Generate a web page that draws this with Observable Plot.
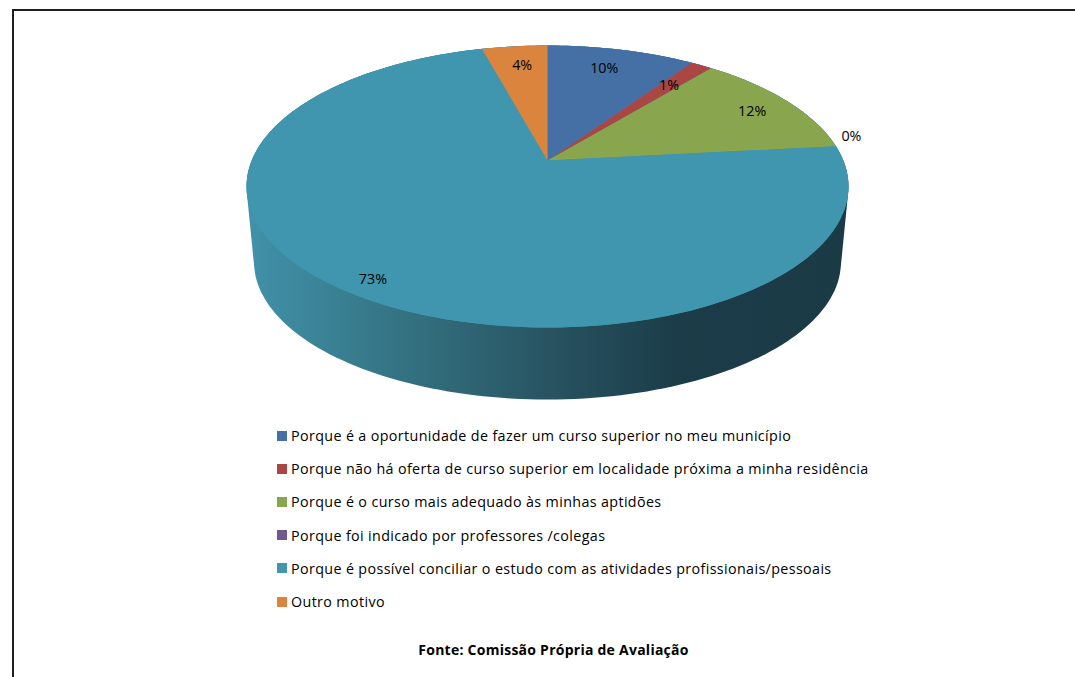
<!DOCTYPE html>
<html lang="pt">
<head>
<meta charset="utf-8">
<script src="https://cdn.jsdelivr.net/npm/d3@7"></script>
<script src="https://cdn.jsdelivr.net/npm/@observablehq/plot@0.6"></script>
<style>
  html, body { margin: 0; padding: 0; background: #fff; width: 1075px; height: 677px; overflow: hidden; font-family: "Open Sans", sans-serif; color: #000; }
  #frame { position: absolute; left: 12px; top: 9px; width: 1075px; height: 700px; border-left: 2px solid #231f20; border-top: 2px solid #231f20; }
  #chart { position: absolute; left: 0; top: 0; }
  #legend { position: absolute; left: 277px; top: 419px; margin: 0; padding: 0; list-style: none; font-size: 14.3px; letter-spacing: 0.37px; }
  #legend li { height: 33.2px; line-height: 33.2px; white-space: nowrap; display: flex; align-items: center; }
  #legend i { display: inline-block; width: 10px; height: 10px; margin-right: 4px; flex: none; }
  #source { position: absolute; left: 0; width: 1107px; top: 641px; text-align: center; font-weight: 700; font-size: 14px; letter-spacing: 0.25px; line-height: 18px; }
</style>
</head>
<body>
<div id="frame"></div>
<div id="chart"></div>
<ul id="legend"></ul>
<div id="source"></div>
<script>
const categories = [
  "Porque é a oportunidade de fazer um curso superior no meu município",
  "Porque não há oferta de curso superior em localidade próxima a minha residência",
  "Porque é o curso mais adequado às minhas aptidões",
  "Porque foi indicado por professores /colegas",
  "Porque é possível conciliar o estudo com as atividades profissionais/pessoais",
  "Outro motivo"
];
const values = [9.5, 1.4, 12.4, 0, 72.5, 4.2];
const colors = ["#4470a5", "#aa4643", "#89a54e", "#71588f", "#4096ae", "#db843d"];
const sourceText = "Fonte: Comissão Própria de Avaliação";

// label placement relative to each slice (fraction of radius, turn in degrees)
const labelRadius = [0.80, 0.765, 0.836, 1.078, 0.909, 0.806];
const labelTurn = [-1.2, 0, 0.9, -3.7, -0.38, 0.56];

// Perspective view of the disc
const top3d = {cx: 547, cy: 160, a: 295.8, b: 136.2, k: 0.1844};
const bottom3d = {cx: 547, cy: 236.2, a: 288.4, b: 132.8, k: 0.1844};
const project = (view, angle, r = 1) => {
  const u = r * Math.sin(angle), v = r * Math.cos(angle), w = 1 + view.k * v;
  return [view.cx + view.a * u / w, view.cy - view.b * v / w];
};

const total = d3.sum(values);
const toAngle = (p) => (p / total) * 2 * Math.PI;
let running = 0;
const slices = values.map((value, i) => {
  const start = toAngle(running);
  running += value;
  return {i, value, start, end: toAngle(running), color: colors[i], label: `${Math.round(value)}%`};
});

const arc = (view, a0, a1) => d3.range(0, 241).map((t) => project(view, a0 + (a1 - a0) * t / 240));

const slicePoints = slices.filter((s) => s.value > 0).flatMap((s) => {
  const pts = [[top3d.cx, top3d.cy], ...arc(top3d, s.start, s.end)];
  return pts.map(([x, y]) => ({x, y, i: s.i, color: s.color}));
});
const disc = arc(top3d, 0, 2 * Math.PI).map(([x, y]) => ({x, y}));
const wall = d3.polygonHull([...arc(top3d, 0, 2 * Math.PI), ...arc(bottom3d, 0, 2 * Math.PI)])
  .map(([x, y]) => ({x, y}));

const labels = slices.map((s, i) => {
  const [x, y] = project(top3d, (s.start + s.end) / 2 + labelTurn[i] * Math.PI / 180, labelRadius[i]);
  return {x, y, label: s.label};
});

const gradientStops = [[0, "#4192aa"], [0.28, "#33707f"], [0.52, "#27515f"], [0.72, "#1b3c48"], [1, "#1a3a46"]];
const wallGradient = () => {
  const ns = "http://www.w3.org/2000/svg";
  const defs = document.createElementNS(ns, "defs");
  const g = document.createElementNS(ns, "linearGradient");
  g.setAttribute("id", "wallShade");
  g.setAttribute("x1", "0"); g.setAttribute("x2", "1"); g.setAttribute("y1", "0"); g.setAttribute("y2", "0");
  for (const [o, c] of gradientStops) {
    const s = document.createElementNS(ns, "stop");
    s.setAttribute("offset", o); s.setAttribute("stop-color", c);
    g.appendChild(s);
  }
  defs.appendChild(g);
  return defs;
};

const plot = Plot.plot({
  width: 1075,
  height: 420,
  margin: 0,
  x: {type: "linear", domain: [0, 1075], range: [0, 1075], axis: null},
  y: {type: "linear", domain: [0, 420], range: [0, 420], axis: null},
  style: {background: "transparent", fontFamily: "'Open Sans', sans-serif"},
  marks: [
    wallGradient,
    Plot.line(wall, {x: "x", y: "y", fill: "url(#wallShade)", stroke: "none", curve: "linear-closed"}),
    Plot.line(disc, {x: "x", y: "y", fill: colors[4], stroke: "none", curve: "linear-closed"}),
    Plot.line(slicePoints, {x: "x", y: "y", z: "i", fill: "color", stroke: "none", curve: "linear-closed"}),
    Plot.text(labels, {x: "x", y: "y", text: "label", fontSize: 14.3, fill: "#000", textAnchor: "middle"})
  ]
});
document.getElementById("chart").appendChild(plot);

const legend = document.getElementById("legend");
categories.forEach((c, i) => {
  const li = document.createElement("li");
  const sw = document.createElement("i");
  sw.style.background = colors[i];
  li.appendChild(sw);
  li.appendChild(document.createTextNode(c));
  legend.appendChild(li);
});
document.getElementById("source").textContent = sourceText;
</script>
</body>
</html>
